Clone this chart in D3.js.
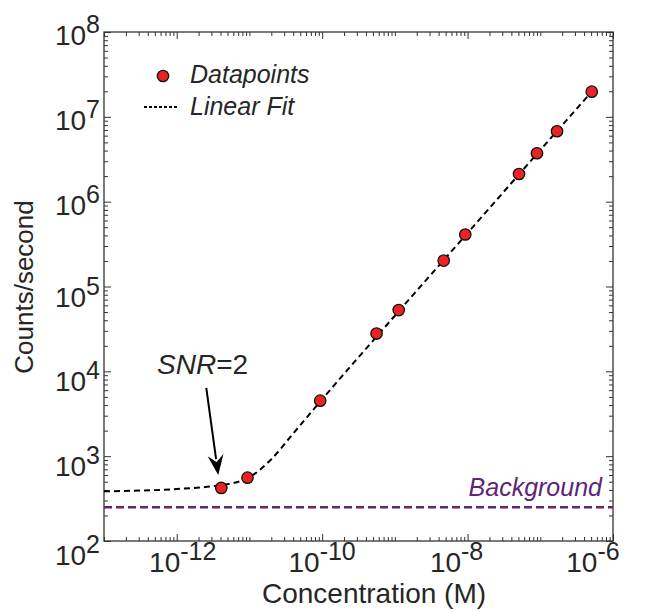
<!DOCTYPE html>
<html>
<head>
<meta charset="utf-8">
<script src="https://cdn.jsdelivr.net/npm/d3@7.9.0/dist/d3.min.js"></script>
<style>
  body { margin: 0; background: #fff; }
  svg { display: block; }
  text { font-family: "Liberation Sans", Arial, sans-serif; fill: #262626; }
</style>
</head>
<body>
<svg id="chart" width="651" height="612"></svg>
<script>
const concentration = [4.1e-12, 9.4e-12, 9.4e-11, 5.6e-10, 1.13e-9, 4.7e-9, 9.3e-9, 5.1e-8, 9.0e-8, 1.7e-7, 5.1e-7];
const counts = [422, 558, 4510, 27900, 52700, 2.02e5, 4.1e5, 2.12e6, 3.72e6, 6.76e6, 1.98e7];

// fit curve
const fitConc = [1e-13, 1e-12, 3e-12, 5e-12, 9.4e-12, 2e-11, 4e-11, 9.4e-11, 1.1e-9, 1e-8, 1e-7, 5.1e-7];
const fitCounts = [385, 410, 440, 468, 548, 920, 1850, 4400, 4.97e4, 4.27e5, 4.05e6, 1.98e7];

const background = 250;

// tick labels (exponents)
const xLabelExps = [-12, -10, -8, -6];
const yLabelExps = [2, 3, 4, 5, 6, 7, 8];

// layout
const plotL = 104, plotR = 613, plotT = 32, plotB = 541;
const purple = "#5c2577";
const red = "#ec2224";

const svg = d3.select("#chart");

const x = d3.scaleLog().domain([1e-13, 1e-6]).range([plotL, plotR]);
const y = d3.scaleLog().domain([1e2, 1e8]).range([plotB, plotT]);

// ticks: majors on labelled decades, everything else minor
const isXMajor = v => xLabelExps.some(e => Math.abs(Math.log10(v) - e) < 1e-6);
const isYMajor = v => yLabelExps.some(e => Math.abs(Math.log10(v) - e) < 1e-6);
const xAll = x.ticks();
const yAll = y.ticks();
const xMaj = xAll.filter(isXMajor), xMin = xAll.filter(v => !isXMajor(v));
const yMaj = yAll.filter(isYMajor), yMin = yAll.filter(v => !isYMajor(v));

const majLen = 7, minLen = 4;
function drawAxis(gen, tr) {
  const g = svg.append("g").attr("transform", tr).call(gen);
  g.select(".domain").remove();
  g.selectAll("line").attr("stroke", "#333").attr("stroke-width", 1);
  g.selectAll("text").remove();
}
drawAxis(d3.axisBottom(x).tickValues(xMaj).tickSize(-majLen), `translate(0,${plotB})`);
drawAxis(d3.axisBottom(x).tickValues(xMin).tickSize(-minLen), `translate(0,${plotB})`);
drawAxis(d3.axisTop(x).tickValues(xMaj).tickSize(-majLen), `translate(0,${plotT})`);
drawAxis(d3.axisTop(x).tickValues(xMin).tickSize(-minLen), `translate(0,${plotT})`);
drawAxis(d3.axisLeft(y).tickValues(yMaj).tickSize(-majLen), `translate(${plotL},0)`);
drawAxis(d3.axisLeft(y).tickValues(yMin).tickSize(-minLen), `translate(${plotL},0)`);
drawAxis(d3.axisRight(y).tickValues(yMaj).tickSize(-majLen), `translate(${plotR},0)`);
drawAxis(d3.axisRight(y).tickValues(yMin).tickSize(-minLen), `translate(${plotR},0)`);

svg.append("rect")
  .attr("x", plotL).attr("y", plotT)
  .attr("width", plotR - plotL).attr("height", plotB - plotT)
  .attr("fill", "none").attr("stroke", "#333").attr("stroke-width", 1.3);

// tick labels as 10^n
const xNudge = {"-12": 6, "-10": 0, "-8": -11, "-6": -20};
svg.append("g").selectAll("text").data(xLabelExps).join("text")
  .attr("x", d => x(Math.pow(10, d)) + xNudge[d])
  .attr("y", plotB + 31)
  .attr("text-anchor", "middle")
  .each(function(d) {
    const t = d3.select(this);
    t.append("tspan").attr("font-size", 28).text("10");
    t.append("tspan").attr("font-size", 25).attr("dy", -12).text(d);
  });

const yNudge = {2: 24, 3: 20, 4: 20, 5: 20, 6: 13, 7: 13, 8: 13};
svg.append("g").selectAll("text").data(yLabelExps).join("text")
  .attr("x", 100)
  .attr("y", d => y(Math.pow(10, d)) + yNudge[d])
  .attr("text-anchor", "end")
  .each(function(d) {
    const t = d3.select(this);
    t.append("tspan").attr("font-size", 28).text("10");
    t.append("tspan").attr("font-size", 25).attr("dy", -12).text(d);
  });

// axis titles
svg.append("text")
  .attr("x", 374).attr("y", 603)
  .attr("text-anchor", "middle").attr("font-size", 28)
  .text("Concentration (M)");
svg.append("text")
  .attr("transform", "translate(33,287) rotate(-90)")
  .attr("text-anchor", "middle").attr("font-size", 26)
  .text("Counts/second");

// background
svg.append("line")
  .attr("x1", plotL).attr("x2", plotR)
  .attr("y1", y(background)).attr("y2", y(background))
  .attr("stroke", purple).attr("stroke-width", 2.5)
  .attr("stroke-dasharray", "8,4");
svg.append("text")
  .attr("x", 602).attr("y", y(background) - 11)
  .attr("text-anchor", "end").attr("font-size", 25)
  .attr("font-style", "italic").style("fill", purple)
  .text("Background");

// fit line
const fitData = fitConc.map((c, i) => [c, fitCounts[i]]);
svg.append("path")
  .datum(fitData)
  .attr("d", d3.line().x(d => x(d[0])).y(d => y(d[1])).curve(d3.curveMonotoneX))
  .attr("fill", "none").attr("stroke", "#000").attr("stroke-width", 2)
  .attr("stroke-dasharray", "6,4");

// datapoints
const pts = concentration.map((c, i) => [c, counts[i]]);
svg.append("g").selectAll("circle").data(pts).join("circle")
  .attr("cx", d => x(d[0])).attr("cy", d => y(d[1]))
  .attr("r", 5.7)
  .attr("fill", red).attr("stroke", "#111").attr("stroke-width", 1.3);

// SNR annotation, pointing at the first datapoint
const px = x(pts[0][0]), py = y(pts[0][1]);
const tip = [px - 3, py - 13], tail = [px - 15, py - 100];
const ang = Math.atan2(tip[1] - tail[1], tip[0] - tail[0]);
const headLen = 20, headW = 8;
const base = [tip[0] - headLen * Math.cos(ang), tip[1] - headLen * Math.sin(ang)];
svg.append("line")
  .attr("x1", tail[0]).attr("y1", tail[1])
  .attr("x2", base[0] + 4 * Math.cos(ang)).attr("y2", base[1] + 4 * Math.sin(ang))
  .attr("stroke", "#000").attr("stroke-width", 2);
const perp = ang + Math.PI / 2;
svg.append("path")
  .attr("d", d3.line()([
    tip,
    [base[0] + headW * Math.cos(perp), base[1] + headW * Math.sin(perp)],
    [base[0] + 7 * Math.cos(ang), base[1] + 7 * Math.sin(ang)],
    [base[0] - headW * Math.cos(perp), base[1] - headW * Math.sin(perp)]
  ]) + "Z")
  .attr("fill", "#000");
const snr = svg.append("text").attr("x", 157).attr("y", 374).attr("font-size", 28);
snr.append("tspan").attr("font-style", "italic").text("SNR");
snr.append("tspan").text("=2");

// legend
svg.append("circle").attr("cx", 163).attr("cy", 76).attr("r", 5.7)
  .attr("fill", red).attr("stroke", "#111").attr("stroke-width", 1.3);
svg.append("text").attr("x", 190).attr("y", 83).attr("font-size", 25)
  .attr("font-style", "italic").text("Datapoints");
svg.append("line").attr("x1", 144).attr("x2", 178).attr("y1", 107).attr("y2", 107)
  .attr("stroke", "#000").attr("stroke-width", 2).attr("stroke-dasharray", "3,2");
svg.append("text").attr("x", 190).attr("y", 115).attr("font-size", 25)
  .attr("font-style", "italic").text("Linear Fit");
</script>
</body>
</html>
